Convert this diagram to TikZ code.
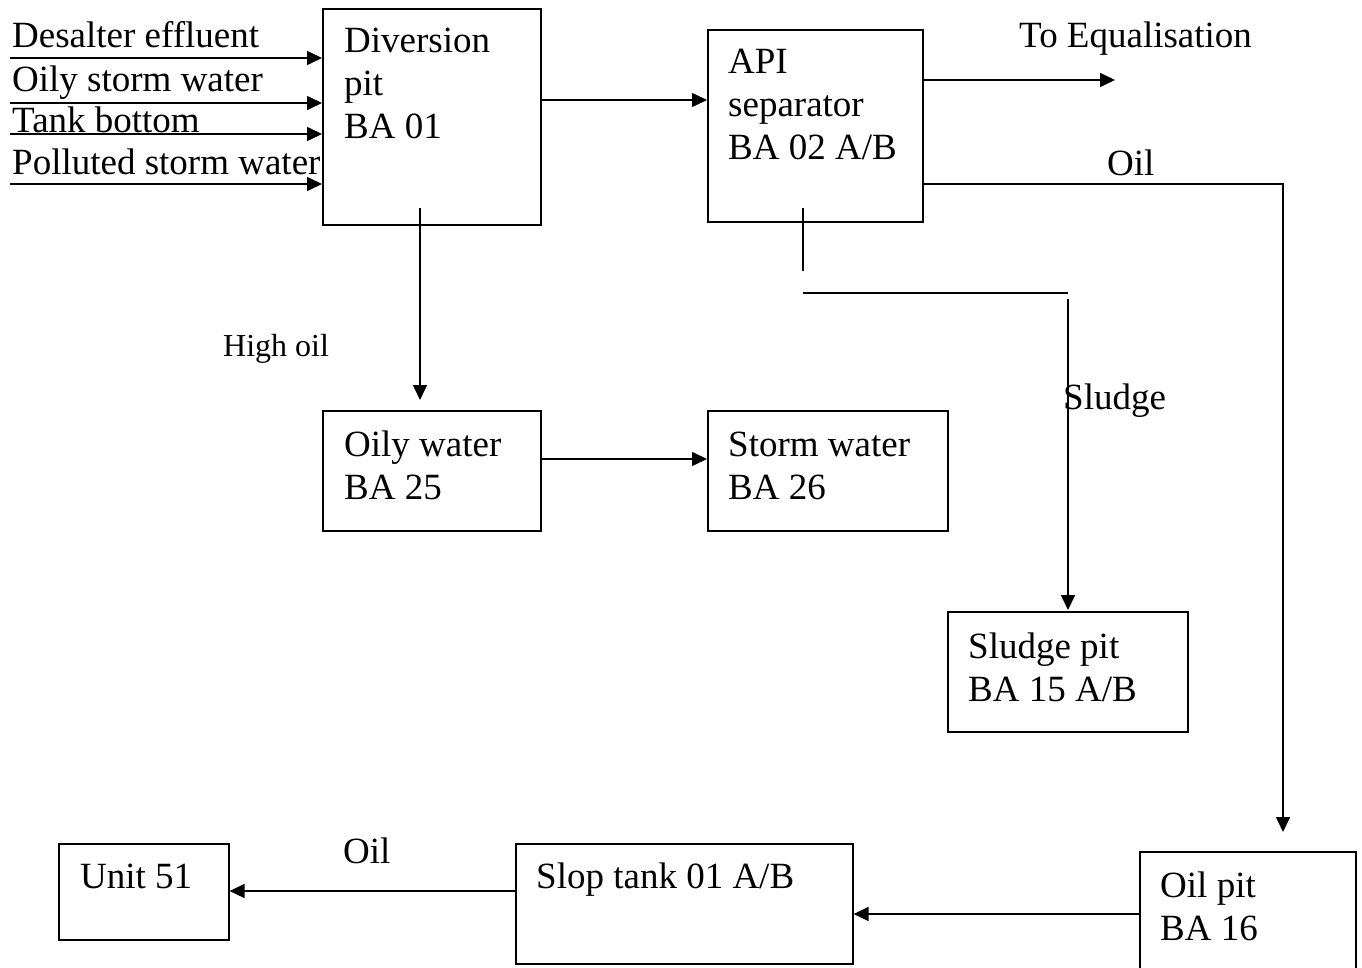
\documentclass[tikz,border=0pt]{standalone}
\usepackage{fontspec}
\setmainfont{Liberation Serif}
\usetikzlibrary{arrows.meta}
\tikzset{
  unitbox/.style={draw, line width=1.6pt, anchor=north west, inner sep=0pt},
  txt/.style={inner sep=0pt, anchor=base west, align=left,
    font=\fontsize{37}{43}\selectfont},
  smalltxt/.style={inner sep=0pt, anchor=base west,
    font=\fontsize{32}{38}\selectfont},
  flow/.style={line width=1.6pt},
  arr/.style={flow, -{Triangle[length=15pt,width=14pt]}}
}
\begin{document}
\begin{tikzpicture}[x=1pt,y=-1pt]
\useasboundingbox (0,0) rectangle (1362,968);

% process units
\node[unitbox, minimum width=218pt, minimum height=216pt] (div) at (322,8) {};
\node[unitbox, minimum width=215pt, minimum height=192pt] (api) at (707,29) {};
\node[unitbox, minimum width=218pt, minimum height=120pt] (oily) at (322,410) {};
\node[unitbox, minimum width=240pt, minimum height=120pt] (storm) at (707,410) {};
\node[unitbox, minimum width=240pt, minimum height=120pt] (sludge) at (947,611) {};
\node[unitbox, minimum width=216pt, minimum height=140pt] (oilpit) at (1139,851) {};
\node[unitbox, minimum width=337pt, minimum height=120pt] (slop) at (515,843) {};
\node[unitbox, minimum width=170pt, minimum height=96pt] (unit) at (58,843) {};

% unit labels (base anchor sits on the last line)
\node[txt] (divt) at (344,139) {Diversion\\pit\\BA 01};
\node[txt] (apit) at (728,160) {API\\separator\\BA 02 A/B};
\node[txt] (oilyt) at (344,499) {Oily water\\BA 25};
\node[txt] (stormt) at (728,499) {Storm water\\BA 26};
\node[txt] (sludget) at (968,701) {Sludge pit\\BA 15 A/B};
\node[txt] (oilpitt) at (1160,940) {Oil pit\\BA 16};
\node[txt] (slopt) at (536,888) {Slop tank 01 A/B};
\node[txt] (unitt) at (80,888) {Unit 51};

% incoming streams
\node[txt] (l1) at (12,48) {Desalter effluent};
\node[txt] (l2) at (12,92) {Oily storm water};
\node[txt] (l3) at (12,133) {Tank bottom};
\node[txt] (l4) at (12,175) {Polluted storm water};
\coordinate (s1) at (10,58);
\coordinate (s2) at (10,103);
\coordinate (s3) at (10,134);
\coordinate (s4) at (10,184);
\foreach \s in {s1,s2,s3,s4}
  \draw[arr] (\s) -- (\s -| div.west);

% diversion pit to API separator
\coordinate (d1) at (540,100);
\draw[arr] (d1) -- (d1 -| api.west);

% API separator outlets
\coordinate (eq) at (1115,80);
\draw[arr] (eq -| api.east) -- (eq);
\node[txt] (eqt) at (1019,48) {To Equalisation};

\coordinate (o1) at (922,184);
\coordinate (oilend) at (1283,832);
\draw[arr] (o1) -| (oilend);
\node[txt] (oilt) at (1107,176) {Oil};

% sludge line
\coordinate (sl1) at (803,208);
\coordinate (sl2) at (803,271);
\coordinate (sl3) at (803,293);
\coordinate (sl4) at (1068,293);
\coordinate (sl5) at (1068,299);
\coordinate (sl6) at (1068,610);
\draw[flow] (sl1) -- (sl2);
\draw[flow] (sl3) -- (sl4);
\draw[arr] (sl5) -- (sl6);
\node[txt] (sludgel) at (1063,409) {Sludge};

% high oil line
\coordinate (h1) at (420,208);
\coordinate (h2) at (420,400);
\draw[arr] (h1) -- (h2);
\node[smalltxt] (hol) at (223,356) {High oil};

% oily water to storm water
\coordinate (w1) at (540,459);
\draw[arr] (w1) -- (w1 -| storm.west);

% oil pit to slop tank
\coordinate (p1) at (1139,914);
\draw[arr] (p1) -- (p1 -| slop.east);

% slop tank to unit 51
\coordinate (u1) at (515,891);
\draw[arr] (u1) -- (u1 -| unit.east);
\node[txt] (oill) at (343,863) {Oil};
\end{tikzpicture}
\end{document}
